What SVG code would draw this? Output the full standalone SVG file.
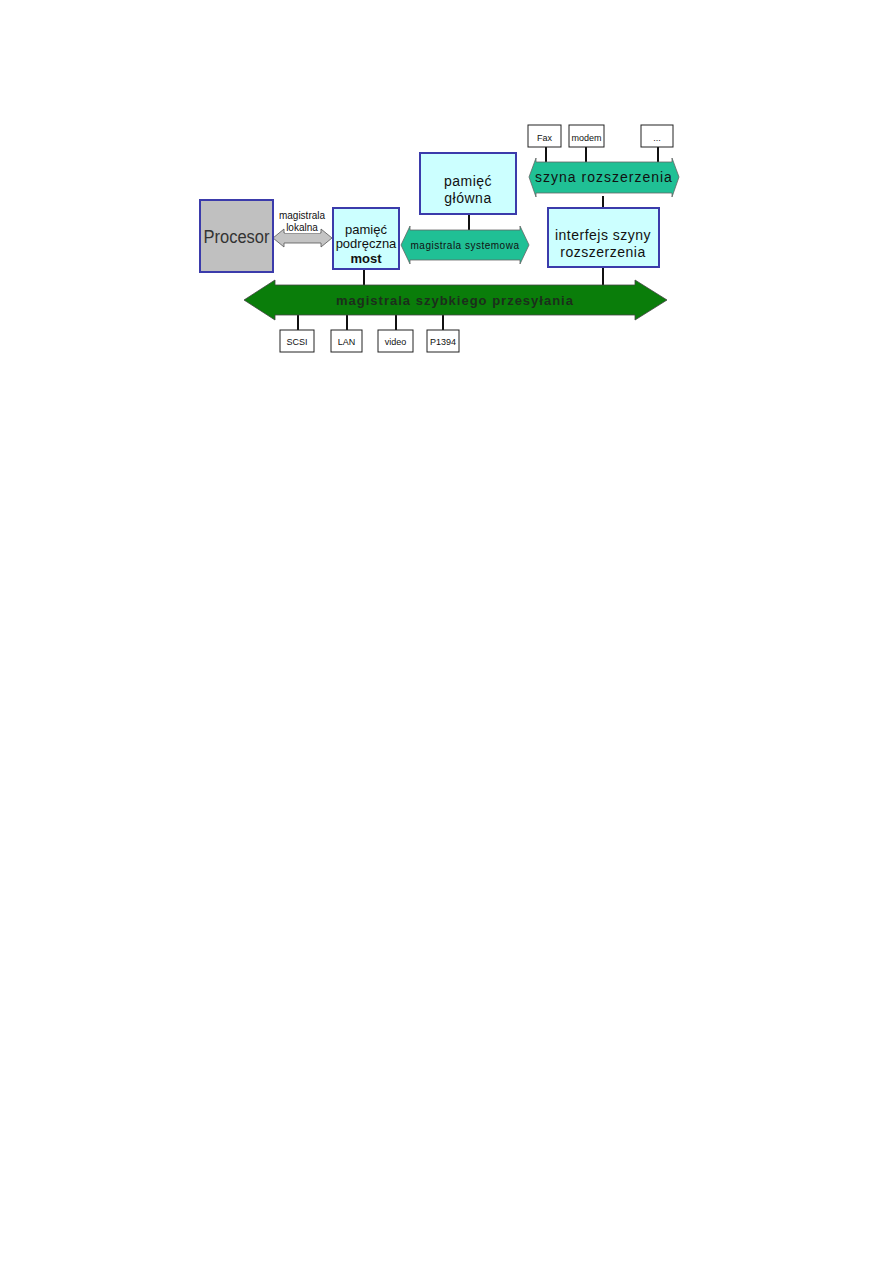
<svg xmlns="http://www.w3.org/2000/svg" width="893" height="1263" viewBox="0 0 893 1263">
<style>
text{font-family:"Liberation Sans",Arial,sans-serif;text-anchor:middle;fill:#111}
.box{fill:#ccffff;stroke:#3b3bab;stroke-width:2}
.small{fill:#fff;stroke:#222;stroke-width:1}
.ln{stroke:#111;stroke-width:2}
.teal{fill:#20c095;stroke:#666;stroke-width:0.8}
.t9{font-size:9px}
.t14{font-size:14px;letter-spacing:0.5px}
</style>
<rect width="893" height="1263" fill="#fff"/>
<g id="connectors">
<line class="ln" x1="469" y1="214" x2="469" y2="230"/>
<line class="ln" x1="603" y1="196" x2="603" y2="208"/>
<line class="ln" x1="603" y1="267" x2="603" y2="286"/>
<line class="ln" x1="364" y1="269" x2="364" y2="286"/>
<line class="ln" x1="546" y1="147" x2="546" y2="163"/>
<line class="ln" x1="586" y1="147" x2="586" y2="163"/>
<line class="ln" x1="658" y1="147" x2="658" y2="163"/>
<line class="ln" x1="298" y1="314" x2="298" y2="331"/>
<line class="ln" x1="347" y1="314" x2="347" y2="331"/>
<line class="ln" x1="396" y1="314" x2="396" y2="331"/>
<line class="ln" x1="443" y1="314" x2="443" y2="331"/>
</g>
<g id="bus-fast">
<polygon points="244,300 275,280 275,285 635,285 635,280 667,300 635,320 635,315 275,315 275,320" fill="#0a7d0a" stroke="#444" stroke-width="0.8"/>
<text x="455" y="305" style="font-size:13px;font-weight:bold;letter-spacing:1px;fill:#1c2e1c">magistrala szybkiego przesyłania</text>
</g>
<g id="bus-local">
<polygon points="273,238 284,229 284,233 321,233 321,229 332,238 321,247 321,243 284,243 284,247" fill="#c4c4c4" stroke="#555" stroke-width="0.8"/>
<rect x="285" y="222" width="35" height="11" fill="#fff"/>
<text x="302" y="219" style="font-size:10px">magistrala</text>
<text x="302" y="231" style="font-size:10px">lokalna</text>
</g>
<g id="bus-system">
<polygon class="teal" points="401,245 410,226 410,230 520,230 520,226 529,245 520,264 520,260 410,260 410,264"/>
<text x="465" y="249" style="font-size:10px;letter-spacing:0.5px">magistrala systemowa</text>
</g>
<g id="bus-expansion">
<polygon class="teal" points="529,177 536,158 536,162 672,162 672,158 679,177 672,197 672,193 536,193 536,197"/>
<text x="604" y="182" class="t14" style="letter-spacing:1px">szyna rozszerzenia</text>
</g>
<g id="procesor">
<rect x="200" y="200" width="73" height="72" fill="#c0c0c0" stroke="#3b3bab" stroke-width="2"/>
<text x="236.5" y="243" textLength="66" lengthAdjust="spacingAndGlyphs" style="font-size:18px;fill:#333">Procesor</text>
</g>
<g id="cache">
<rect class="box" x="333" y="208" width="66" height="61"/>
<text x="366" y="234" style="font-size:13px">pamięć</text>
<text x="366" y="248" style="font-size:13px">podręczna</text>
<text x="366" y="263" style="font-size:13px;font-weight:bold">most</text>
</g>
<g id="main-memory">
<rect class="box" x="420" y="153" width="96" height="61"/>
<text x="468" y="186" class="t14">pamięć</text>
<text x="468" y="203" class="t14">główna</text>
</g>
<g id="interface">
<rect class="box" x="548" y="208" width="111" height="59"/>
<text x="603" y="240" class="t14">interfejs szyny</text>
<text x="603" y="257" class="t14">rozszerzenia</text>
</g>
<g id="fax"><rect class="small" x="528" y="125" width="33" height="22"/><text x="544.5" y="141" class="t9">Fax</text></g>
<g id="modem"><rect class="small" x="569" y="125" width="35" height="22"/><text x="586.5" y="141" class="t9">modem</text></g>
<g id="dots"><rect class="small" x="641" y="125" width="32" height="22"/><text x="657" y="141" class="t9">...</text></g>
<g id="scsi"><rect class="small" x="280" y="330" width="34" height="22"/><text x="297" y="345" class="t9">SCSI</text></g>
<g id="lan"><rect class="small" x="331" y="330" width="31" height="22"/><text x="346.5" y="345" class="t9">LAN</text></g>
<g id="video"><rect class="small" x="378" y="330" width="35" height="22"/><text x="395.5" y="345" class="t9">video</text></g>
<g id="p1394"><rect class="small" x="427" y="330" width="32" height="22"/><text x="443" y="345" class="t9">P1394</text></g>
</svg>
